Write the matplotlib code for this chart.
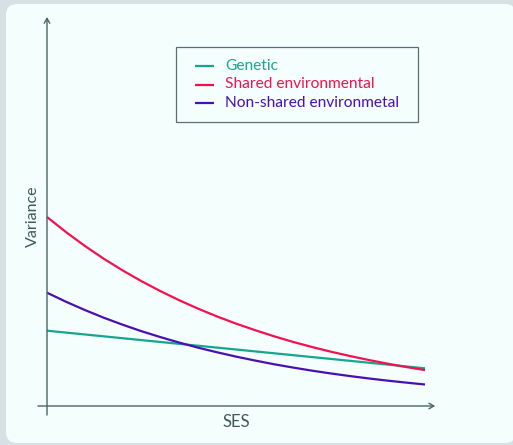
import matplotlib
matplotlib.use("Agg")
import matplotlib.pyplot as plt
from matplotlib.patches import FancyBboxPatch, Rectangle
from matplotlib.transforms import IdentityTransform

# ---- data (arbitrary units, no ticks) ----
ses = [0, 0.5, 1, 1.5, 2, 2.5, 3, 3.5, 4, 4.5, 5, 5.5, 6, 6.5, 7, 7.5, 8, 8.5, 9, 9.5, 10]
shared_env = [189.0, 174.0, 160.1, 147.3, 135.6, 124.8, 114.9, 105.7, 97.3, 89.5, 82.4,
              75.9, 69.8, 64.2, 59.1, 54.4, 50.1, 46.1, 42.4, 39.0, 35.9]
nonshared_env = [113.3, 104.3, 96.0, 88.3, 81.3, 74.8, 68.9, 63.4, 58.3, 53.7, 49.4,
                 45.5, 41.8, 38.5, 35.4, 32.6, 30.0, 27.6, 25.4, 23.4, 21.5]
genetic_x = [0, 10]
genetic = [75.3, 37.7]

labels = ["Genetic", "Shared environmental", "Non-shared environmetal"]
colors = ["#17a58e", "#f5104f", "#4a0fb2"]
x_label = "SES"
y_label = "Variance"

FONT = ["Lato", "DejaVu Sans"]
AXC = "#4d6464"
TXT = "#3f5959"

W, H = 513, 445
fig = plt.figure(figsize=(W / 100, H / 100), dpi=100)
fig.patch.set_facecolor("#d7e1e5")

panel = FancyBboxPatch((6, 2), 510, 439, boxstyle="round,pad=0,rounding_size=11",
                       transform=IdentityTransform(), facecolor="#f3fefd",
                       edgecolor="none", zorder=-5)
fig.add_artist(panel)

ax = fig.add_axes([0, 0, 1, 1])
ax.set_facecolor("none")
# mapping: x pixel = 47 + 37.8*x ; y pixel(from top) = 406 - y
ax.set_xlim((0 - 47) / 37.8, (W - 47) / 37.8)
ax.set_ylim(406 - H, 406)
ax.axis("off")

# axes with arrows
ax.annotate("", xy=(10.27, 0), xytext=(-0.24, 0),
            arrowprops=dict(arrowstyle="->,head_length=0.35,head_width=0.2", color=AXC, lw=1.0,
                            shrinkA=0, shrinkB=0))
ax.annotate("", xy=(0, 389), xytext=(0, -9),
            arrowprops=dict(arrowstyle="->,head_length=0.35,head_width=0.2", color=AXC, lw=1.0,
                            shrinkA=0, shrinkB=0))

# curves
ax.plot(genetic_x, genetic, color=colors[0], lw=1.6, solid_capstyle="butt")
ax.plot(ses, shared_env, color=colors[1], lw=1.6, solid_capstyle="butt")
ax.plot(ses, nonshared_env, color=colors[2], lw=1.6, solid_capstyle="butt")

# axis labels
ax.text((236 - 47) / 37.8, 406 - 422, x_label, ha="center", va="center",
        fontsize=12, color=TXT, family=FONT)
ax.text((33 - 47) / 37.8, 406 - 216, y_label, ha="center", va="center", rotation=90,
        fontsize=11.5, color=TXT, family=FONT)

# legend (manual)
lx0 = (175.7 - 47) / 37.8
lx1 = (418.3 - 47) / 37.8
ly0 = 406 - 121.7
ly1 = 406 - 46.7
ax.add_patch(Rectangle((lx0, ly0), lx1 - lx0, ly1 - ly0, facecolor="#f3fefd",
                       edgecolor="#5b6f6f", lw=0.9))
rows = [406 - 66, 406 - 84.5, 406 - 103.3]
for lab, col, yy in zip(labels, colors, rows):
    ax.plot([(195 - 47) / 37.8, (213.5 - 47) / 37.8], [yy, yy], color=col, lw=1.6,
            solid_capstyle="butt")
    ax.text((225 - 47) / 37.8, yy, lab, color=col, ha="left", va="center",
            fontsize=11.2, family=FONT)

fig.savefig("out.png", dpi=100, facecolor=fig.get_facecolor())
